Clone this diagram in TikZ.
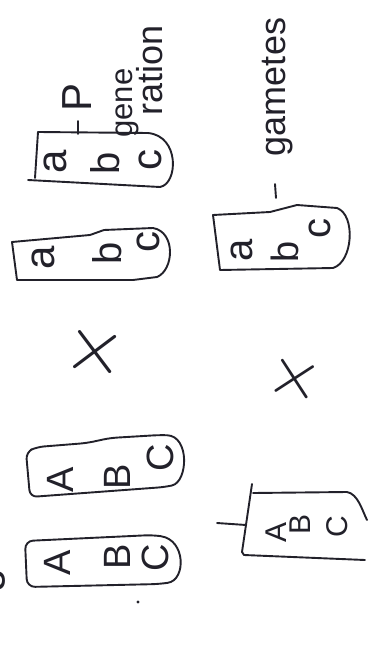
\documentclass[tikz,border=0pt]{standalone}
\usepackage{fontspec}
\setmainfont{Liberation Sans}
\definecolor{ink}{RGB}{34,33,42}
\tikzset{
  pen/.style={draw=ink, line width=1.9pt, line cap=round, line join=round},
  glyph/.style={rotate=90, inner sep=0pt, text=ink, font=\fontsize{#1}{#1}\selectfont},
  glyph/.default=40,
  crossmark/.style={inner sep=0pt, text=ink},
}
\begin{document}
\begin{tikzpicture}[x=1pt,y=-1pt]
\useasboundingbox (0,0) rectangle (383,663);
\clip (0,0) rectangle (383,663);
\fill[white] (0,0) rectangle (383,663);

% ---------- left column: P generation ----------
% box 1 (a b c)
\draw[pen] (38,132) -- (148,133) .. controls (180,136) and (178,184) .. (160,187) -- (28,180);
\draw[pen] (38,132) -- (35,178);
\node[glyph=42] (p1a) at (55,162) {a};
\node[glyph=40] (p1b) at (105,163) {b};
\node[glyph=42] (p1c) at (150,160) {c};
% tick and P generation label
\coordinate (tickPa) at (78,121);
\coordinate (tickPb) at (78,134);
\draw[pen] (tickPa) -- (tickPb);
\node[glyph=42] (P) at (77,97) {P};
\node[glyph=31] (gene1) at (127,103) {gene};
\node[glyph=36] (ration) at (150,70) {ration};

% box 2 (a b c)
\draw[pen] (12,242) -- (17,280) -- (133,280) -- (157,277)
  .. controls (174,270) and (176,232) .. (153,228) -- (104,230) -- (90,235) -- cycle;
\node[glyph=42] (p2a) at (43,258) {a};
\node[glyph=40] (p2b) at (107,253) {b};
\node[glyph=42] (p2c) at (148,242) {c};

% cross
\node[crossmark, rotate=-8] (x1) at (95,352) {\scalebox{8}{$\times$}};

% box 3 (A B C)
\draw[pen, rounded corners=7pt] (26,452) -- (37,447) -- (87,443) -- (110,438) -- (160,435)
  .. controls (190,436) and (188,482) .. (165,487) -- (30,497) -- cycle;
\node[glyph=38] (p3A) at (60,480) {A};
\node[glyph=38] (p3B) at (117,477) {B};
\node[glyph=38] (p3C) at (160,458) {C};

% box 4 (A B C)
\draw[pen, rounded corners=8pt] (25,541) -- (153,535)
  .. controls (186,540) and (186,580) .. (160,584) -- (27,587) -- cycle;
\node[glyph=38] (p4A) at (57,563) {A};
\node[glyph=38] (p4B) at (117,557) {B};
\node[glyph=38] (p4C) at (155,558) {C};

% dot
\fill[ink] (138,602) circle (1.6);

% partly cut word at the left edge
\node[glyph=43, anchor=base] (gene2) at (-3,545) {gene};

% ---------- right column: gametes ----------
\node[glyph=36] (gam) at (278,87) {gametes};
\coordinate (tickGa) at (275,184);
\coordinate (tickGb) at (276,198);
\draw[pen] (tickGa) -- (tickGb);

% box 5 (a b c)
\draw[pen] (213,215) -- (270,212) -- (297,205) -- (337,208)
  .. controls (356,215) and (353,262) .. (333,268) -- (220,270) -- cycle;
\node[glyph=40] (g1a) at (242,250) {a};
\node[glyph=38] (g1b) at (285,252) {b};
\node[glyph=40] (g1c) at (320,228) {c};

% cross
\node[crossmark, rotate=-12] (x2) at (295,379) {\scalebox{7}{$\times$}};

% box 6 (A B C)
\coordinate (dashA) at (217,523);
\coordinate (dashB) at (246,525);
\draw[pen] (dashA) -- (dashB);
\draw[pen] (252,484) -- (242,552) -- (244,555) -- (365,560);
\draw[pen] (253,493) -- (347,492) .. controls (358,494) and (362,510) .. (367,520);
\node[glyph=30] (g2A) at (276,532) {A};
\node[glyph=30] (g2B) at (300,524) {B};
\node[glyph=30] (g2C) at (337,527) {C};
\end{tikzpicture}
\end{document}
